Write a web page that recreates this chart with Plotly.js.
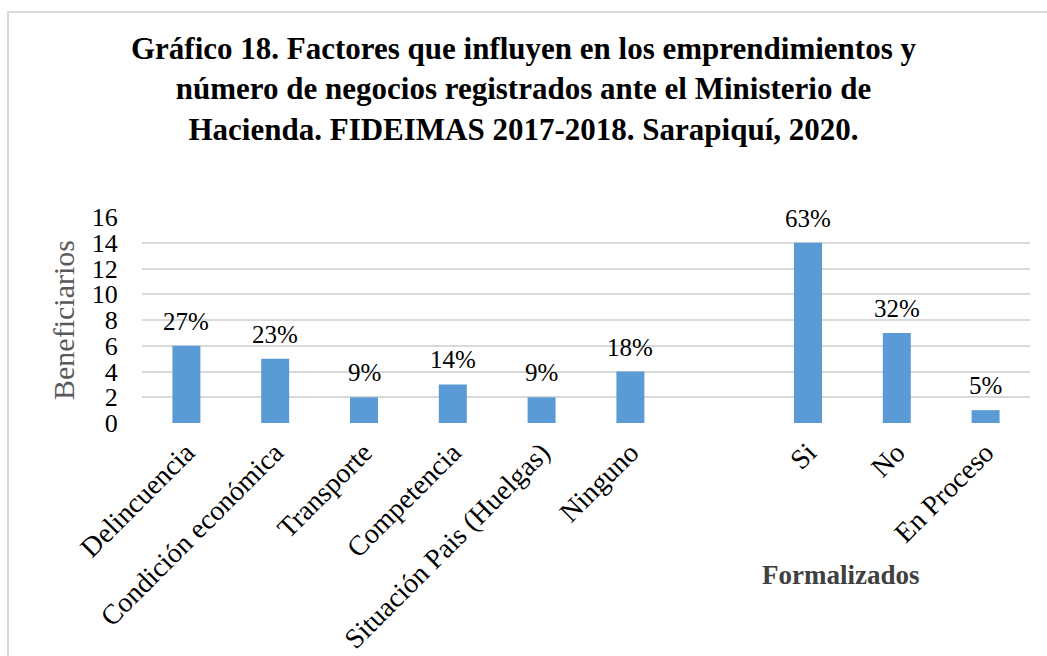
<!DOCTYPE html>
<html>
<head>
<meta charset="utf-8">
<script src="https://cdn.plot.ly/plotly-3.0.1.min.js"></script>
<style>
html,body{margin:0;padding:0;background:#fff;}
#chart{width:1047px;height:656px;}
</style>
</head>
<body>
<div id="chart"></div>
<script>
const categories = ["Delincuencia","Condición económica","Transporte","Competencia","Situación Pais (Huelgas)","Ninguno"," ","Si","No","En Proceso"];
const values = [6,5,2,3,2,4,null,14,7,1];
const labels = ["27%","23%","9%","14%","9%","18%","","63%","32%","5%"];
const yTicks = [0,2,4,6,8,10,12,14,16];

const serif = "Liberation Serif";

const annotations = [];
categories.forEach((c,i)=>{
  if(values[i]!==null){
    annotations.push({x:c,y:values[i],xref:'x',yref:'y',text:labels[i],showarrow:false,
      yanchor:'bottom',yshift:9,font:{family:serif,size:25,color:'#000'}});
  }
});
annotations.push({x:"No",y:0,xref:'x',yref:'paper',text:"<b>Formalizados</b>",showarrow:false,
  xshift:-56,yshift:-152,yanchor:'middle',font:{family:serif,size:27,color:'#404040'}});

const trace = {
  type:'bar', x:categories, y:values,
  marker:{color:'#5b9bd5'},
  hoverinfo:'none'
};

const layout = {
  width:1047,height:656,
  margin:{l:142,r:17,t:217,b:233},
  paper_bgcolor:'#fff',plot_bgcolor:'#fff',
  bargap:0.685,
  showlegend:false,
  font:{family:serif},
  title:{text:"<b>Gráfico 18. Factores que influyen en los emprendimientos y<br>número de negocios registrados ante el Ministerio de<br>Hacienda. FIDEIMAS 2017-2018. Sarapiquí, 2020.</b>",
    font:{family:serif,size:31,color:'#000'},x:0.5,xanchor:'center',yref:'container',y:0.91,yanchor:'top'},
  xaxis:{type:'category',categoryorder:'array',categoryarray:categories,tickangle:-45,
    tickfont:{family:serif,size:28,color:'#000'},showgrid:false,zeroline:false,showline:false,
    ticks:'outside',ticklen:1,tickcolor:'rgba(0,0,0,0)'},
  yaxis:{range:[0,16],tickvals:yTicks,ticktext:yTicks.map(String),
    tickfont:{family:serif,size:26,color:'#000'},
    showgrid:true,gridcolor:'#d9d9d9',gridwidth:2,zeroline:false,showline:false,
    ticks:'outside',ticklen:18,tickcolor:'rgba(0,0,0,0)',
    title:{text:"Beneficiarios",font:{family:serif,size:30,color:'#595959'},standoff:8}},
  shapes:[{type:'rect',xref:'paper',yref:'paper',
    x0:(8-142)/888,x1:(1070-142)/888,y0:1+(217-700)/206,y1:1+(217-12)/206,
    line:{color:'#d9d9d9',width:2},fillcolor:'rgba(0,0,0,0)'}],
  annotations:annotations
};

Plotly.newPlot('chart',[trace],layout,{displayModeBar:false,staticPlot:true});
</script>
</body>
</html>
